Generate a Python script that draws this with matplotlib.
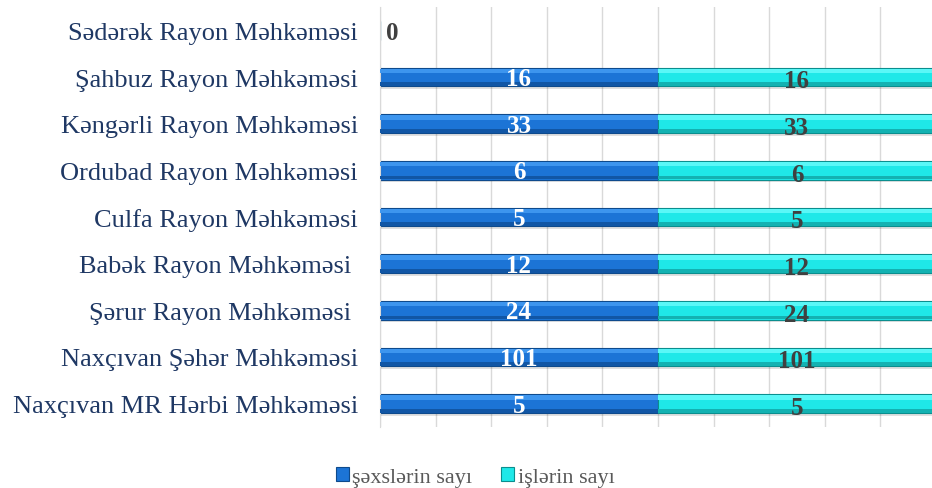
import matplotlib.pyplot as plt
import numpy as np

plt.rcParams['font.family'] = ['Liberation Serif', 'DejaVu Serif']

# mehkemeler (asagidan yuxari)
mehkemeler = ['Naxçıvan MR Hərbi Məhkəməsi', 'Naxçıvan Şəhər Məhkəməsi', 'Şərur Rayon Məhkəməsi ',
              'Babək Rayon Məhkəməsi ', 'Culfa Rayon Məhkəməsi', 'Ordubad Rayon Məhkəməsi',
              'Kəngərli Rayon Məhkəməsi', 'Şahbuz Rayon Məhkəməsi', 'Sədərək Rayon Məhkəməsi']
sexsler = [5, 101, 24, 12, 5, 6, 33, 16, 0]
isler = [5, 101, 24, 12, 5, 6, 33, 16, 0]
seriya_adlari = ['şəxslərin sayı', 'işlərin sayı']

s = np.array(sexsler, dtype=float)
i = np.array(isler, dtype=float)
cem = s + i
cem[cem == 0] = 1
ps = s / cem
pi = i / cem

fig = plt.figure(figsize=(9.32, 4.89), dpi=100)
ax = fig.add_axes([380 / 932, 1 - 428 / 489, 552 / 932, 420 / 489])

y = np.arange(len(mehkemeler))
h = 0.40

# kolge
ax.barh(y - 0.06, ps + pi, height=h, color='#000000', alpha=0.12, zorder=1)

# esas zolaqlar
b1 = ax.barh(y, ps, height=h, color='#1C74D6', edgecolor='#0E4A8C', linewidth=0.8, zorder=2, label=seriya_adlari[0])
b2 = ax.barh(y, pi, left=ps, height=h, color='#1FE8E8', edgecolor='#0B8E8E', linewidth=0.8, zorder=2, label=seriya_adlari[1])
# parilti (yuxari hisse)
ax.barh(y + h * 0.33, ps, height=h * 0.22, color='#3D95EE', linewidth=0, zorder=3)
ax.barh(y + h * 0.33, pi, left=ps, height=h * 0.22, color='#5AF7F7', linewidth=0, zorder=3)
# tund alt hisse
ax.barh(y - h * 0.38, ps, height=h * 0.2, color='#1156A5', linewidth=0, zorder=3)
ax.barh(y - h * 0.38, pi, left=ps, height=h * 0.2, color='#13B2B2', linewidth=0, zorder=3)

for k in range(len(y)):
    if sexsler[k] + isler[k] == 0:
        ax.text(0.01, y[k] - 0.05, str(sexsler[k]), ha='left', va='center', fontsize=18,
                fontweight='bold', color='#404040', zorder=5)
        continue
    ax.text(ps[k] / 2, y[k] - 0.03, str(sexsler[k]), ha='center', va='center', fontsize=18,
            fontweight='bold', color='white', zorder=5)
    ax.text(ps[k] + pi[k] / 2, y[k] - 0.08, str(isler[k]), ha='center', va='center', fontsize=18,
            fontweight='bold', color='#404040', zorder=5)

ax.set_xlim(0, 0.993)
ax.set_ylim(-0.5, len(y) - 0.5)
ax.set_xticks(np.arange(0, 1.0, 0.1))
ax.set_xticklabels([])
ax.tick_params(axis='x', length=0)
ax.tick_params(axis='y', length=0, pad=16)
ax.set_yticks(y)
ax.set_yticklabels(mehkemeler, fontsize=19, color='#1F3864')
ax.grid(axis='x', color='#D9D9D9', linewidth=1.0, zorder=0)
ax.set_axisbelow(True)
for sp in ['top', 'right', 'bottom']:
    ax.spines[sp].set_visible(False)
ax.spines['left'].set_color('#D9D9D9')

leg = fig.legend(handles=[b1, b2], labels=seriya_adlari, loc='center', bbox_to_anchor=(475 / 932, 1 - 478 / 489),
                 ncol=2, frameon=False, fontsize=16, handlelength=0.6, handleheight=0.6,
                 handletextpad=0.15, columnspacing=1.3)
for t in leg.get_texts():
    t.set_color('#595959')

fig.savefig('out.png', dpi=100)
